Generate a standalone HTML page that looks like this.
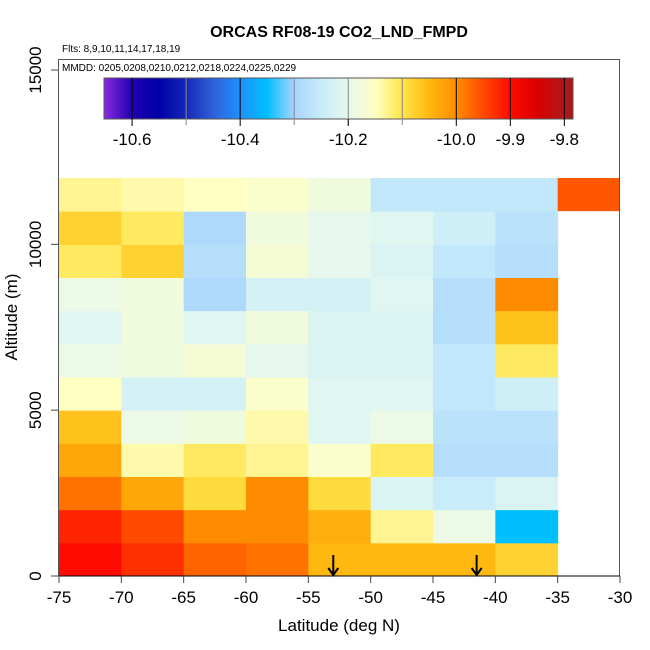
<!DOCTYPE html>
<html><head><meta charset="utf-8"><style>
body{margin:0;background:#fff}
svg{display:block;font-family:"Liberation Sans",sans-serif}
</style></head><body>
<svg id="c" width="650" height="650" viewBox="0 0 650 650">
<defs>
<linearGradient id="cbg" x1="0" x2="1" y1="0" y2="0"></linearGradient>
</defs>
</svg>
<script>
// Data
const latBins = [-75,-70,-65,-60,-55,-50,-45,-40];
const altBins = [0,1000,2000,3000,4000,5000,6000,7000,8000,9000,10000,11000];
// values[row][col], row = altitude bin from bottom
const values = [
 [-9.90,-9.93,-9.97,-9.98,-10.05,-10.05,-10.05,-10.08],
 [-9.92,-9.95,-10.00,-10.00,-10.04,-10.13,-10.19,-10.35],
 [-9.98,-10.03,-10.09,-10.00,-10.09,-10.22,-10.25,-10.22],
 [-10.03,-10.14,-10.11,-10.13,-10.16,-10.11,-10.28,-10.28],
 [-10.06,-10.19,-10.18,-10.14,-10.21,-10.19,-10.27,-10.27],
 [-10.15,-10.23,-10.23,-10.16,-10.21,-10.21,-10.26,-10.24],
 [-10.19,-10.18,-10.17,-10.20,-10.22,-10.22,-10.26,-10.11],
 [-10.21,-10.18,-10.21,-10.18,-10.22,-10.22,-10.28,-10.06],
 [-10.19,-10.18,-10.29,-10.23,-10.23,-10.21,-10.28,-10.00],
 [-10.11,-10.08,-10.28,-10.17,-10.20,-10.22,-10.26,-10.28],
 [-10.08,-10.11,-10.29,-10.18,-10.20,-10.21,-10.24,-10.27],
 [-10.13,-10.14,-10.15,-10.16,-10.18,-10.26,-10.26,-10.26]
];
const extraLat = [-35]; const extraAlt = [11000]; const extraVal = [-9.96];
const arrowLats = [-53, -41.5];
const xTicks = [-75,-70,-65,-60,-55,-50,-45,-40,-35,-30];
const yTicks = [0,5000,10000];
const cbTicks = [-10.6,-10.4,-10.2,-10.0,-9.9,-9.8];
const cbLines = [-10.6,-10.5,-10.4,-10.3,-10.2,-10.1,-10.0,-9.9,-9.8];

const stops = [[-10.652,'#8a2be2'],[-10.6,'#2000b0'],[-10.55,'#0000a8'],[-10.5,'#1428b8'],[-10.45,'#3060d8'],[-10.4,'#1e90ff'],[-10.35,'#00bfff'],[-10.3,'#a8d4fc'],[-10.25,'#c8ecfa'],[-10.2,'#e6f8ee'],[-10.15,'#ffffc4'],[-10.1,'#ffe448'],[-10.05,'#ffb810'],[-10.0,'#ff8c00'],[-9.95,'#ff4a00'],[-9.9,'#ff0a00'],[-9.85,'#d80000'],[-9.8,'#b01818'],[-9.784,'#a81818']];
function hex(h){return [1,3,5].map(i=>parseInt(h.substr(i,2),16));}
function col(v){
  if(v<=stops[0][0])return stops[0][1];
  for(let i=1;i<stops.length;i++){if(v<=stops[i][0]){const a=stops[i-1],b=stops[i];const t=(v-a[0])/(b[0]-a[0]);const ca=hex(a[1]),cb=hex(b[1]);return 'rgb('+ca.map((c,k)=>Math.round(c+(cb[k]-c)*t)).join(',')+')';}}
  return stops[stops.length-1][1];
}
const X=v=>59+(v+75)*(561/45);
const Y=v=>576-v*(398/12000);
const CB=v=>104+(v+10.652)*(469/0.868);
const svg=document.getElementById('c');const NS='http://www.w3.org/2000/svg';
function mk(t,a,p){const e=document.createElementNS(NS,t);for(const k in a)e.setAttribute(k,a[k]);(p||svg).appendChild(e);return e;}
function txt(s,a){const e=mk('text',a);e.textContent=s;return e;}

const cells=mk('g',{});


values.forEach((row,r)=>row.forEach((v,c)=>{
  const e=mk('rect',{x:X(latBins[c]),y:Y(altBins[r]+1000),width:X(latBins[c]+5)-X(latBins[c])+0.5,height:Y(altBins[r])-Y(altBins[r]+1000)+0.5,fill:col(v)},cells);
  
  
}));
extraVal.forEach((v,i)=>{
  const e=mk('rect',{x:X(extraLat[i]),y:Y(extraAlt[i]+1000),width:X(extraLat[i]+5)-X(extraLat[i]),height:Y(extraAlt[i])-Y(extraAlt[i]+1000),fill:col(v)},cells);
  
  
});
// arrows
arrowLats.forEach(l=>{
  const g=mk('g',{stroke:'#000','stroke-width':2,fill:'none'});
  
  
  mk('line',{x1:X(l),y1:555,x2:X(l),y2:575},g);
  mk('polyline',{points:(X(l)-5)+',568 '+X(l)+',575 '+(X(l)+5)+',568'},g);
});
// frame
const fr=mk('rect',{x:58.5,y:59.5,width:561,height:516.5,fill:'none',stroke:'#555','stroke-width':1});


// x axis
const xa=mk('line',{x1:X(-75),y1:576,x2:X(-30),y2:576,stroke:'#000'});


xTicks.forEach(t=>{
  mk('line',{x1:X(t),y1:576,x2:X(t),y2:583,stroke:'#444'});
  const e=txt(t,{x:X(t),y:603,'font-size':17,'text-anchor':'middle'});
  
  
});
const yl=[...yTicks.map(t=>[t,Y(t)]),[15000,70]];
yl.forEach(([t,y])=>{
  mk('line',{x1:51,y1:y,x2:58,y2:y,stroke:'#444'});
  const e=txt(t,{x:0,y:0,'font-size':17,'text-anchor':'middle',transform:'translate(41,'+y+') rotate(-90)'});
  
  
});
const xt=txt('Latitude (deg N)',{x:339,y:631,'font-size':17,'text-anchor':'middle'});


const yt=txt('Altitude (m)',{x:0,y:0,'font-size':17,'text-anchor':'middle',transform:'translate(17,317) rotate(-90)'});


const ti=txt('ORCAS RF08-19 CO2_LND_FMPD',{x:339,y:37,'font-size':16,'font-weight':'bold','text-anchor':'middle'});


const f1=txt('Flts: 8,9,10,11,14,17,18,19',{x:62,y:52,'font-size':10});


const f2=txt('MMDD: 0205,0208,0210,0212,0218,0224,0225,0229',{x:62,y:71,'font-size':10});


// colorbar
const grad=document.getElementById('cbg');
stops.forEach(s=>mk('stop',{offset:((CB(s[0])-104)/469).toFixed(4),'stop-color':s[1]},grad));
const cb=mk('rect',{x:104,y:78,width:469,height:41,fill:'url(#cbg)',stroke:'#555'});


cbLines.forEach(v=>mk('line',{x1:CB(v),y1:78,x2:CB(v),y2:v===-10.5||v===-10.3||v===-10.1?125:(v===-10.2?125:119),stroke:v===-10.2||v===-10.3||v===-10.5||v===-10.1?'#888':'#000','stroke-width':1}));
cbTicks.forEach(v=>{
  mk('line',{x1:CB(v),y1:119,x2:CB(v),y2:126,stroke:'#000'});
  const e=txt(v.toFixed(1),{x:CB(v),y:145,'font-size':17,'text-anchor':'middle'});
  
  
});
</script>
</body></html>
